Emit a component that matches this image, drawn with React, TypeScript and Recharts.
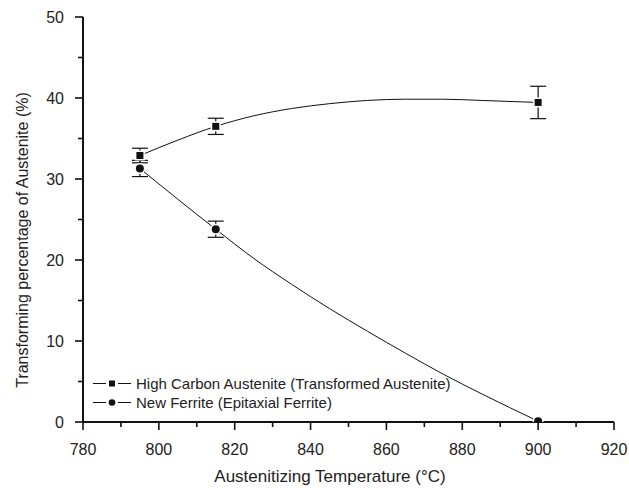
import React from 'react';
import { ComposedChart, Line, Scatter, XAxis, YAxis, ErrorBar, Customized } from 'recharts';

// Measured points
const temps = [795, 815, 900];
const highCarbonValues = [32.9, 36.5, 39.45];
const highCarbonErrors = [0.9, 1.0, 2.0];
const newFerriteValues = [31.3, 23.8, 0.1];
const newFerriteErrors = [1.0, 1.0, 0];

// Fitted curves
const curveTemps = [795, 805, 815, 825, 835, 845, 855, 865, 875, 885, 900];
const highCarbonCurve = [32.9, 34.8, 36.5, 37.8, 38.7, 39.3, 39.7, 39.85, 39.85, 39.7, 39.45];
const newFerriteCurve = [31.3, 27.5, 23.8, 20.2, 17.0, 14.0, 11.2, 8.5, 5.9, 3.5, 0.1];

// Ticks
const xTicks = [780, 790, 800, 810, 820, 830, 840, 850, 860, 870, 880, 890, 900, 910, 920];
const xLabels = [780, 800, 820, 840, 860, 880, 900, 920];
const yTicks = [0, 5, 10, 15, 20, 25, 30, 35, 40, 45, 50];
const yLabels = [0, 10, 20, 30, 40, 50];

const seriesNames = ['High Carbon Austenite (Transformed Austenite)', 'New Ferrite (Epitaxial Ferrite)'];

const W = 629;
const H = 488;
const PLOT = { left: 83, right: 614, top: 17, bottom: 422 };
const FONT = '"Liberation Sans", Arial, Helvetica, sans-serif';
const INK = '#111';
const TXT = '#222';

const highCarbonPts = temps.map((t, i) => ({ x: t, y: highCarbonValues[i], err: highCarbonErrors[i] }));
const newFerritePts = temps.map((t, i) => ({ x: t, y: newFerriteValues[i], err: newFerriteErrors[i] }));
const highCarbonLine = curveTemps.map((t, i) => ({ x: t, y: highCarbonCurve[i] }));
const newFerriteLine = curveTemps.map((t, i) => ({ x: t, y: newFerriteCurve[i] }));

const XTick = (props: any) => {
  const { x, payload } = props;
  const v = payload.value;
  const major = xLabels.includes(v);
  return (
    <g>
      <line x1={x} x2={x} y1={PLOT.bottom} y2={PLOT.bottom + (major ? 8 : 5)} stroke={INK} strokeWidth={1.6} />
      {major && (
        <text x={x} y={PLOT.bottom + 33} textAnchor="middle" fontSize={16} fontFamily={FONT} fill={TXT}>
          {v}
        </text>
      )}
    </g>
  );
};

const YTick = (props: any) => {
  const { y, payload } = props;
  const v = payload.value;
  const major = yLabels.includes(v);
  return (
    <g>
      <line x1={PLOT.left - (major ? 8 : 5)} x2={PLOT.left} y1={y} y2={y} stroke={INK} strokeWidth={1.6} />
      {major && (
        <text x={PLOT.left - 19} y={y + 6} textAnchor="end" fontSize={16} fontFamily={FONT} fill={TXT}>
          {v}
        </text>
      )}
    </g>
  );
};

const TopTick = (props: any) => {
  const { x } = props;
  return <line x1={x} x2={x} y1={PLOT.top} y2={PLOT.top + 3} stroke={INK} strokeWidth={1.4} />;
};

const RightTick = (props: any) => {
  const { y } = props;
  return <line x1={PLOT.right} x2={PLOT.right + 3} y1={y} y2={y} stroke={INK} strokeWidth={1.4} />;
};

const SquareShape = (p: any) => (
  <rect x={p.cx - 3.5} y={p.cy - 3.5} width={7} height={7} fill={INK} stroke="#fff" strokeWidth={3} paintOrder="stroke" />
);
const CircleShape = (p: any) => (
  <circle cx={p.cx} cy={p.cy} r={4} fill={INK} stroke="#fff" strokeWidth={3} paintOrder="stroke" />
);

const Overlay = () => {
  const lx1 = 93;
  const lx2 = 131;
  const mx = 112;
  const tx = 136;
  const rows = [383.5, 402.5];
  return (
    <g>
      <text x={330} y={482} textAnchor="middle" fontSize={17} fontFamily={FONT} fill={TXT}>
        Austenitizing Temperature (°C)
      </text>
      <text
        x={28}
        y={240}
        transform="rotate(-90 28 240)"
        textAnchor="middle"
        fontSize={16}
        fontFamily={FONT}
        fill={TXT}
      >
        Transforming percentage of Austenite (%)
      </text>
      {rows.map((ry, i) => (
        <g key={i}>
          <line x1={lx1} x2={mx - 6} y1={ry} y2={ry} stroke={INK} strokeWidth={1} />
          <line x1={mx + 6} x2={lx2} y1={ry} y2={ry} stroke={INK} strokeWidth={1} />
          {i === 0 ? (
            <rect x={mx - 3} y={ry - 3} width={6} height={6} fill={INK} />
          ) : (
            <circle cx={mx} cy={ry} r={3.3} fill={INK} />
          )}
          <text x={tx} y={ry + 5} fontSize={15} fontFamily={FONT} fill={TXT}>
            {seriesNames[i]}
          </text>
        </g>
      ))}
    </g>
  );
};

export default function App() {
  return (
    <div style={{ width: W, height: H, background: '#fff' }}>
      <style>{`html, body { margin: 0; padding: 0; overflow: hidden; }`}</style>
      <ComposedChart
        width={W}
        height={H}
        margin={{ top: PLOT.top, right: W - PLOT.right, left: 0, bottom: 0 }}
      >
        <XAxis
          xAxisId="bottom"
          dataKey="x"
          type="number"
          domain={[780, 920]}
          ticks={xTicks}
          interval={0}
          height={H - PLOT.bottom}
          axisLine={{ stroke: INK, strokeWidth: 2 }}
          tickLine={false}
          tick={<XTick />}
          allowDataOverflow
        />
        <XAxis
          xAxisId="top"
          orientation="top"
          dataKey="x"
          type="number"
          domain={[780, 920]}
          ticks={xTicks}
          interval={0}
          height={0}
          axisLine={{ stroke: INK, strokeWidth: 2 }}
          tickLine={false}
          tick={<TopTick />}
          allowDataOverflow
        />
        <YAxis
          yAxisId="left"
          type="number"
          domain={[0, 50]}
          ticks={yTicks}
          interval={0}
          width={PLOT.left}
          axisLine={{ stroke: INK, strokeWidth: 2 }}
          tickLine={false}
          tick={<YTick />}
          allowDataOverflow
        />
        <YAxis
          yAxisId="right"
          orientation="right"
          type="number"
          domain={[0, 50]}
          ticks={yTicks}
          interval={0}
          width={0}
          axisLine={{ stroke: INK, strokeWidth: 2 }}
          tickLine={false}
          tick={<RightTick />}
          allowDataOverflow
        />
        <Line
          xAxisId="bottom"
          yAxisId="left"
          data={highCarbonLine}
          dataKey="y"
          type="monotone"
          stroke={INK}
          strokeWidth={1}
          dot={false}
          activeDot={false}
          isAnimationActive={false}
        />
        <Line
          xAxisId="bottom"
          yAxisId="left"
          data={newFerriteLine}
          dataKey="y"
          type="monotone"
          stroke={INK}
          strokeWidth={1}
          dot={false}
          activeDot={false}
          isAnimationActive={false}
        />
        <Scatter
          xAxisId="bottom"
          yAxisId="left"
          data={highCarbonPts}
          dataKey="y"
          shape={<SquareShape />}
          isAnimationActive={false}
        >
          <ErrorBar dataKey="err" direction="y" width={8} stroke={INK} strokeWidth={1.2} />
        </Scatter>
        <Scatter
          xAxisId="bottom"
          yAxisId="left"
          data={newFerritePts}
          dataKey="y"
          shape={<CircleShape />}
          isAnimationActive={false}
        >
          <ErrorBar dataKey="err" direction="y" width={8} stroke={INK} strokeWidth={1.2} />
        </Scatter>
        <Customized component={<Overlay />} />
      </ComposedChart>
    </div>
  );
}
